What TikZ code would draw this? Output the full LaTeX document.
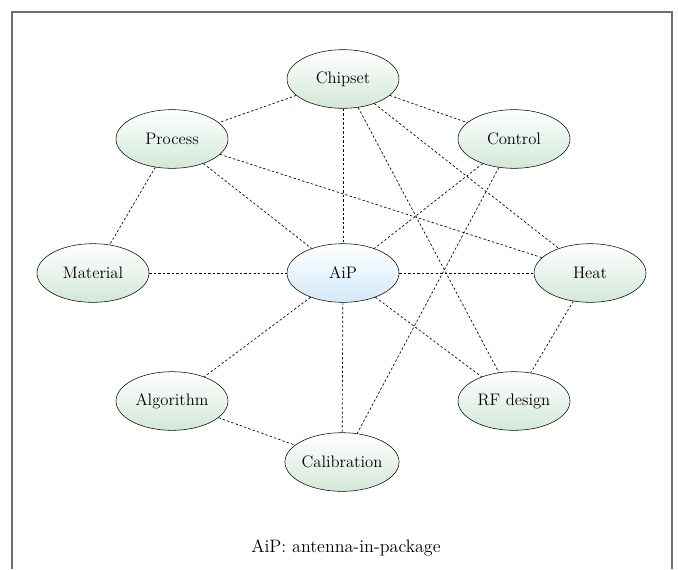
\documentclass[tikz,border=0pt]{standalone}
\usetikzlibrary{shapes.geometric}

\definecolor{leafgreen}{RGB}{210,232,216}
\definecolor{coreblue}{RGB}{210,234,250}
\definecolor{framegray}{RGB}{110,110,110}

\tikzset{
    topic/.style={ellipse,draw,thin,inner sep=0pt,
        minimum width=84pt,minimum height=44pt,
        top color=white,bottom color=leafgreen,
        font=\fontsize{12.5}{14}\selectfont},
    core/.style={topic,bottom color=coreblue},
    link/.style={dashed,dash pattern=on 1.8pt off 1.6pt,line width=0.5pt}
}

\begin{document}
\begin{tikzpicture}[x=0.75pt,y=-0.75pt]
    %% Page and open frame.
    \useasboundingbox (0,0) rectangle (678,569);
    \draw[framegray,line width=1pt] (12,569) -- (12,12) -- (672,12) -- (672,569);

    % Centre node.
    \node[core] (aip) at (343,273) {AiP};

    % Surrounding topics.
    \foreach \name/\pos/\text in {%
        chipset/{343,79}/Chipset,
        process/{172,139}/Process,
        control/{514,139}/Control,
        material/{93,273}/Material,
        heat/{590,273}/Heat,
        algorithm/{172,401}/Algorithm,
        rfdesign/{514,401}/RF design,
        calibration/{342,462}/Calibration} {
        \node[topic] (\name) at (\pos) {\text};
    }

    % Dashed relations.
    \foreach \from/\to in {%
        chipset/process,
        chipset/control,
        chipset/aip,
        chipset/heat,
        chipset/rfdesign,
        process/material,
        process/aip,
        process/heat,
        control/aip,
        control/calibration,
        material/aip,
        aip/heat,
        aip/rfdesign,
        aip/algorithm,
        aip/calibration,
        heat/rfdesign,
        algorithm/calibration} {
        \draw[link] (\from) -- (\to);
    }

    % Caption.
    \node[font=\fontsize{13.5}{16}\selectfont] (caption) at (346,548) {AiP: antenna-in-package};
\end{tikzpicture}
\end{document}
